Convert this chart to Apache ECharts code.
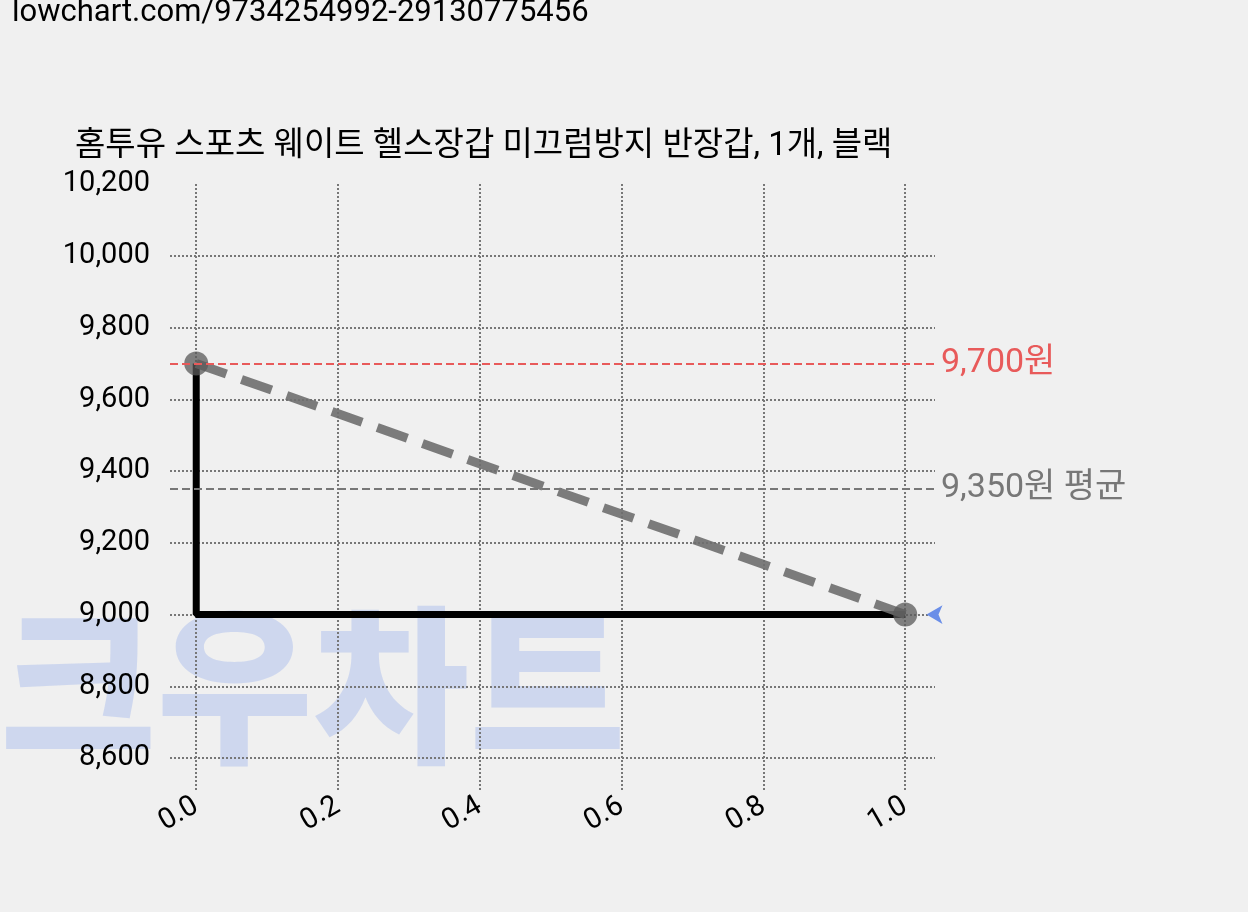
<!DOCTYPE html>
<html><head><meta charset="utf-8">
<script src="https://cdn.jsdelivr.net/npm/echarts@6/dist/echarts.min.js"></script>
<style>html,body{margin:0;background:#f0f0f0}#c{width:1248px;height:912px}</style>
</head><body><div id="c"></div>
<script>
const xTicks=[0,0.2,0.4,0.6,0.8,1.0];
const yTicks=[8600,8800,9000,9200,9400,9600,9800,10000,10200];
const priceX=[0,1];
const priceY=[9700,9000];
const maxPrice=9700, avgPrice=9350, minPrice=9000;
const title='홈투유 스포츠 웨이트 헬스장갑 미끄럼방지 반장갑, 1개, 블랙';
const url='lowchart.com/9734254992-29130775456';
const F='"Roboto","Noto Sans CJK KR",sans-serif';
const chart=echarts.init(document.getElementById('c'));
const dotted={type:'dotted',color:'#777',width:2};
chart.setOption({
  backgroundColor:'#f0f0f0',
  animation:false,
  graphic:[
    {type:'text',left:12,top:-2,style:{text:url,font:'31px '+F,fill:'#000'}},
    {type:'text',left:75,top:130,style:{text:title,font:'33px '+F,fill:'#000'}},
    {type:'text',left:0,top:600,z:0,style:{text:'크우차트',font:'900 170px "Noto Sans CJK KR"',fill:'rgba(130,160,235,0.3)'}}
  ],
  grid:{left:170,right:313,top:184,bottom:122},
  xAxis:{type:'value',min:-0.037,max:1.042,splitLine:{show:false},axisLine:{show:false},axisTick:{show:false},
    axisLabel:{customValues:xTicks,rotate:30,fontSize:29,color:'#000',fontFamily:F,margin:14,formatter:v=>v.toFixed(1)}},
  yAxis:{type:'value',min:8511,max:10200,splitLine:{show:false},axisLine:{show:false},axisTick:{show:false},
    axisLabel:{customValues:yTicks,fontSize:29,color:'#000',fontFamily:F,margin:20,formatter:v=>v.toLocaleString('en-US')}},
  series:[
    {type:'line',data:[],silent:true,z:0,markLine:{symbol:'none',silent:true,z:0,label:{show:false},lineStyle:dotted,
      data:xTicks.map(v=>({xAxis:v})).concat(yTicks.slice(0,-1).map(v=>({yAxis:v})))}},
    {type:'line',data:[[0,maxPrice],[0,minPrice],[1,minPrice]],symbol:'none',lineStyle:{color:'#000',width:7},z:3},
    {type:'line',data:priceX.map((x,i)=>[x,priceY[i]]),symbol:'circle',symbolSize:24,
      itemStyle:{color:'rgba(90,90,90,0.75)'},lineStyle:{color:'rgba(110,110,110,0.9)',width:9,type:[32,16]},z:4,
      markLine:{symbol:'none',silent:true,data:[
        {yAxis:maxPrice,lineStyle:{color:'#e85a5a',type:'dashed',width:2},label:{formatter:'9,700원',position:'end',color:'#e85a5a',fontSize:34,fontFamily:F,distance:6}},
        {yAxis:avgPrice,lineStyle:{color:'#777',type:'dashed',width:2},label:{formatter:'9,350원 평균',position:'end',color:'#777',fontSize:34,fontFamily:F,distance:6}},
        [{coord:[-0.045,minPrice],lineStyle:{color:'#6a8ee8',type:'dashed',width:2},
          label:{formatter:'현재역대최저가\n9,000원',position:'end',color:'#6a8ee8',fontSize:32,fontFamily:F,lineHeight:38,distance:8,
            backgroundColor:'#fff',borderColor:'#6a8ee8',borderWidth:1,borderRadius:6,padding:[4,10,4,10],align:'left'}},
         {coord:[1.035,minPrice]}]
      ]},
      markPoint:{silent:true,symbol:'arrow',symbolSize:[14,16],symbolRotate:90,itemStyle:{color:'#6a8ee8'},label:{show:false},
        data:[{coord:[1.03,minPrice]}]}}
  ]
});
</script></body></html>
